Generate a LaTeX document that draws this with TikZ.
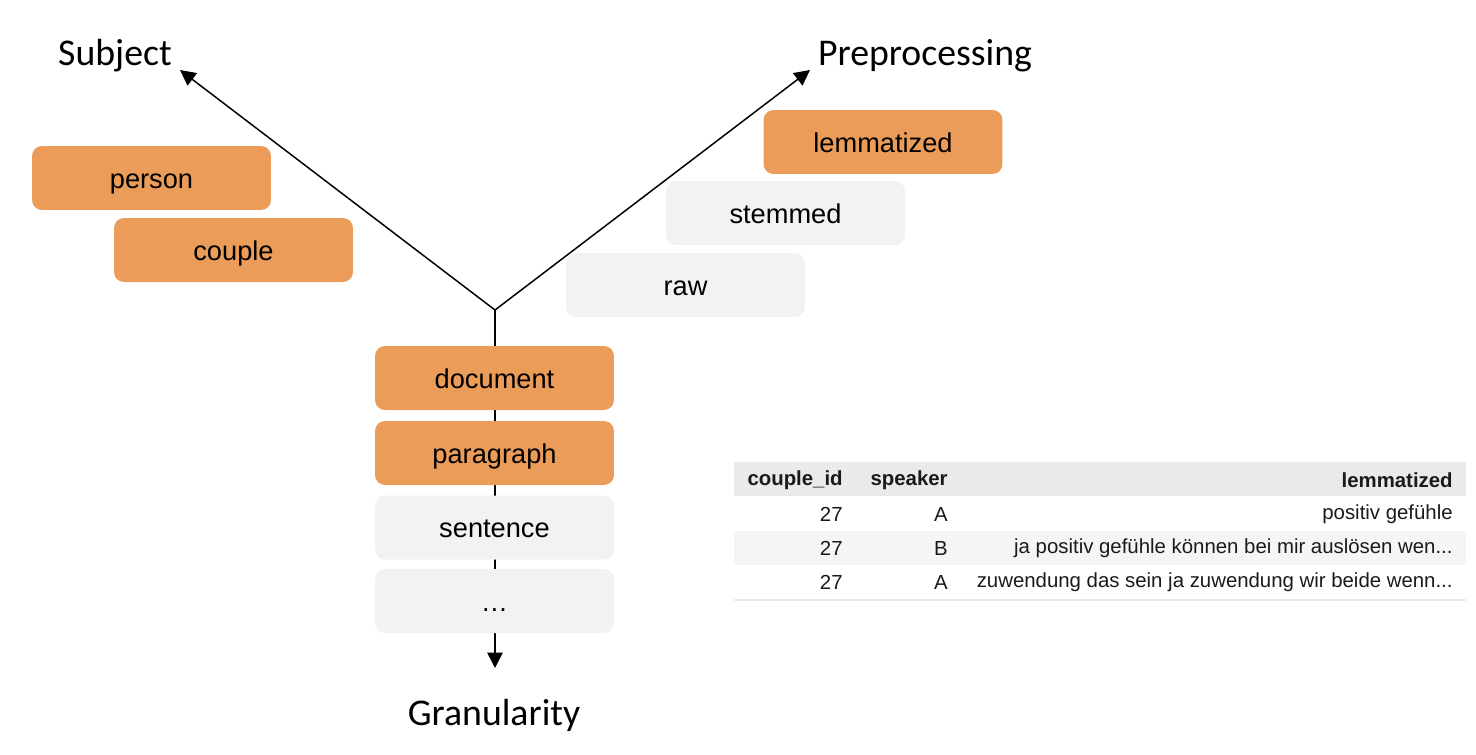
\documentclass[tikz,border=0pt]{standalone}
\usepackage{fontspec}
\setmainfont{Liberation Sans}
\newfontfamily\axisfont{Carlito}
\usetikzlibrary{positioning,arrows.meta}

\definecolor{boxorange}{HTML}{EB9C58}
\definecolor{boxgray}{HTML}{F2F2F2}
\definecolor{headgray}{HTML}{EAEAEA}
\definecolor{rowgray}{HTML}{F5F5F5}
\definecolor{celltext}{HTML}{1A1A1A}

\begin{document}
\begin{tikzpicture}[x=0.02cm, y=-0.02cm,
              level/.style = {shape=rectangle, rounded corners=0.2cm,
                minimum width=4.78cm, minimum height=1.28cm,
                text height=11.4pt, text depth=0pt,
                font=\fontsize{15.5}{18}\selectfont},
              used/.style = {level, fill=boxorange},
              unused/.style = {level, fill=boxgray},
              axis/.style = {line width=0.85pt, -{Triangle[length=0.31cm, width=0.31cm]}},
              axislabel/.style = {font=\axisfont\fontsize{21.5}{24}\selectfont},
              cell/.style = {anchor=east, inner sep=0pt, text=celltext,
                font=\fontsize{11.6}{13}\selectfont},
              head/.style = {cell, font=\bfseries\fontsize{11.6}{13}\selectfont}]
  \useasboundingbox (0,0) rectangle (1476,754);

  % axes
  \coordinate (origin) at (495,310);
  \coordinate (subjend) at (180,70);
  \coordinate (prepend) at (810,70);
  \coordinate (granend) at (495,668);
  \draw[axis] (origin) -- (subjend);
  \draw[axis] (origin) -- (prepend);
  \draw[axis] (origin) -- (granend);

  \node[axislabel] (subject) at (115,56) {Subject};
  \node[axislabel] (preprocessing) at (925,56) {Preprocessing};
  \node[axislabel] (granularity) at (494,715) {Granularity};

  % subject levels
  \node[used] (person) at (151.5,178) {person};
  \node[used] (couple) at (233.5,250) {couple};

  % preprocessing levels
  \node[used] (lemmatized) at (883,142) {lemmatized};
  \node[unused] (stemmed) at (785.5,213) {stemmed};
  \node[unused] (raw) at (685.5,285) {raw};

  % granularity levels
  \node[used] (document) at (494.5,378) {document};
  \node[used] (paragraph) at (494.5,453) {paragraph};
  \node[unused] (sentence) at (494.5,527.5) {sentence};
  \node[unused] (more) at (494.5,601) {\dots};

  % table
  \fill[headgray] (734,462) rectangle (1466,496);
  \fill[rowgray] (734,531) rectangle (1466,565);
  \fill[headgray] (734,598.5) rectangle (1466,601);

  \node[head] (hid) at (843,480) {couple\_id};
  \node[head] (hspeaker) at (948,480) {speaker};
  \node[head] (hlem) at (1453,480) {lemmatized};

  \node[cell] (ida) at (843,514) {27};
  \node[cell] (spa) at (948,514) {A};
  \node[cell] (lema) at (1453,514) {positiv gefühle};

  \node[cell] (idb) at (843,548) {27};
  \node[cell] (spb) at (948,548) {B};
  \node[cell] (lemb) at (1453,548) {ja positiv gefühle können bei mir auslösen wen...};

  \node[cell] (idc) at (843,582) {27};
  \node[cell] (spc) at (948,582) {A};
  \node[cell] (lemc) at (1453,582) {zuwendung das sein ja zuwendung wir beide wenn...};
\end{tikzpicture}
\end{document}
